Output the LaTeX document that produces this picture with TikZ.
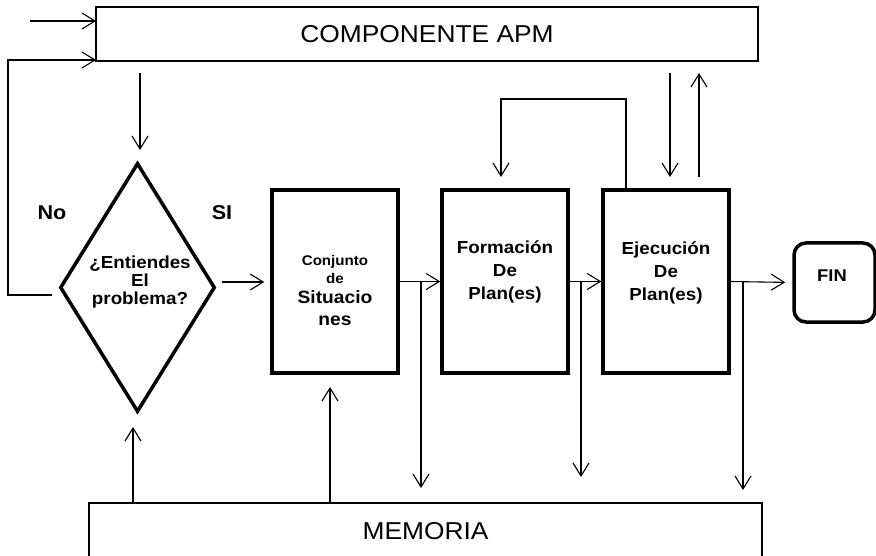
\documentclass[tikz,border=0pt]{standalone}
\usepackage{fontspec}
\setmainfont{Liberation Sans}[FakeStretch=1.08]
\usetikzlibrary{arrows.meta,shapes.geometric}
\begin{document}
\begin{tikzpicture}[x=1pt,y=-1pt,
  arr/.style={line width=1.1pt,-{Straight Barb[length=13pt,width=16pt,line width=1.1pt]}},
  bigbox/.style={line width=1.3pt,inner sep=0pt,outer sep=0pt,font=\fontsize{24.4}{28}\selectfont},
  stagebox/.style={draw,line width=3.5pt,minimum width=126pt,minimum height=183pt,inner sep=0pt},
  lbl/.style={align=center,inner sep=0pt,font=\bfseries\fontsize{17.4}{23.2}\selectfont},
]
\useasboundingbox (0,0) rectangle (876,556);
\fill[white] (0,0) rectangle (876,556);

% big boxes
\node[bigbox,draw,minimum width=662pt,minimum height=54pt] (apm) at (427,34) {COMPONENTE APM};
\node[bigbox,minimum width=673pt,minimum height=56pt] (mem) at (425.5,531) {MEMORIA};
\draw[line width=1.3pt] (mem.south west) -- (mem.north west) -- (mem.north east) -- (mem.south east);

% decision
\node[diamond,draw,line width=3.5pt,minimum width=155pt,minimum height=249pt,inner sep=0pt] (q) at (137.5,287.5) {};
\node[lbl,font=\bfseries\fontsize{17.4}{17.8}\selectfont] (qT) at (140,282) {¿Entiendes\\El\hspace*{22pt}\\problema?};
\node[font=\bfseries\fontsize{20}{24}\selectfont] (no) at (52,213) {No};
\node[font=\bfseries\fontsize{20}{24}\selectfont] (si) at (222,213) {SI};

% stage boxes
\node[stagebox] (conj) at (335,281.5) {};
\node[stagebox] (form) at (505,281.5) {};
\node[stagebox] (ejec) at (666,281.5) {};
\node[draw,line width=3.5pt,rounded corners=12pt,minimum width=81pt,minimum height=79pt,inner sep=0pt] (fin) at (834.5,282.5) {};

\node[lbl,font=\bfseries\fontsize{14}{18}\selectfont] (conjT) at (335,291) {Conjunto\\ de\\[2pt]\fontsize{17.8}{21}\selectfont Situacio\\[4pt] \fontsize{17.8}{21}\selectfont nes};
\node[lbl] (formT) at (505,272) {Formación\\De\\Plan(es)};
\node[lbl] (ejecT) at (666,273) {Ejecución\\De\\Plan(es)};
\node[lbl,font=\bfseries\fontsize{17}{20}\selectfont] (finT) at (832,276) {FIN};

% inputs to COMPONENTE APM
\coordinate (inA) at (30,21);
\draw[arr] (inA) -- (inA -| apm.west);
\coordinate (noS) at (52,295);
\coordinate (fbC) at (8,295);
\coordinate (fbT) at (8,60);
\draw[arr] (noS) -- (fbC) -- (fbT) -- (fbT -| apm.west);

% APM -> decision
\coordinate (d1) at (140,73);
\coordinate (d2) at (140,150);
\draw[arr] (d1) -- (d2);

% main flow
\coordinate (qR) at (222,282);
\draw[arr,shorten >=6pt] (qR) -- (qR -| conj.west);
\draw[arr] (conj.east) -- (form.west);
\draw[arr] (form.east) -- (ejec.west);
\draw[arr,shorten >=7pt] (ejec.east) -- (fin.west);

% branches to memory
\coordinate (b1) at (421,282);
\coordinate (b2) at (581,282);
\coordinate (b3) at (743,282);
\draw[arr] (b1) -- (421,488);
\draw[arr] (b2) -- (581,477);
\draw[arr] (b3) -- (743,490);

% memory -> decision / conjunto
\coordinate (m1) at (133,427);
\coordinate (m2) at (330,387);
\draw[arr] (m1 |- mem.north) -- (m1);
\draw[arr] (m2 |- mem.north) -- (m2);

% APM <-> Ejecucion
\coordinate (e1) at (670,73);
\coordinate (e2) at (670,177);
\coordinate (e3) at (699,177);
\coordinate (e4) at (699,73);
\draw[arr] (e1) -- (e2);
\draw[arr] (e3) -- (e4);

% loop Ejecucion -> Formacion
\coordinate (lp1) at (626,99);
\coordinate (lp2) at (501,99);
\coordinate (lp3) at (501,177);
\draw[arr] (lp1 |- ejec.north) -- (lp1) -- (lp2) -- (lp3);
\end{tikzpicture}
\end{document}
